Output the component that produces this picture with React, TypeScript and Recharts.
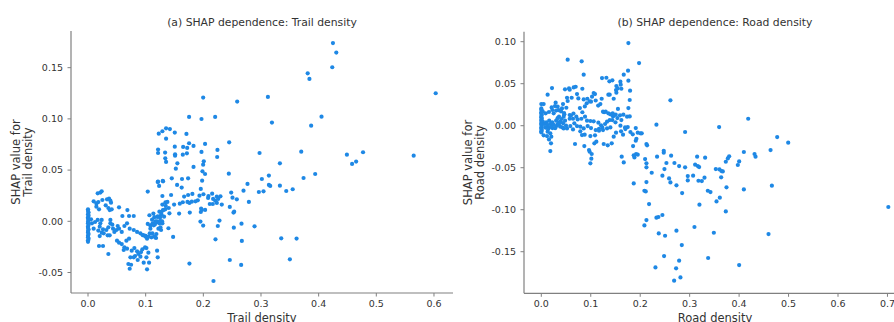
import { ScatterChart, Scatter, XAxis, YAxis } from "recharts";

// SHAP dependence points: [feature value, SHAP value]
const trailPoints: [number, number][] = [
  // x = 0 column
  [0, 0.0117], [0, 0.01], [0.001, 0.0085], [0, 0.007], [0.001, 0.0055], [0, 0.004], [0, 0.0025], [0.001, 0.001],
  [0, -0.0005], [0, -0.002], [0.001, -0.0035], [0, -0.005], [0, -0.0065], [0.001, -0.008], [0, -0.0095], [0, -0.011],
  [0.001, -0.0125], [0, -0.014], [0, -0.0155], [0.001, -0.017], [0, -0.0185], [0, -0.02],
  // low cluster
  [0.0168, 0.0273], [0.0214, 0.028], [0.0237, 0.0293],
  [0.0098, 0.0195], [0.0145, 0.0175], [0.0179, 0.0188], [0.0249, 0.0208], [0.033, 0.0215], [0.0365, 0.0221], [0.0388, 0.0201], [0.0399, 0.0182],
  [0.0145, 0.0143], [0.0191, 0.0117], [0.0307, 0.0156], [0.0353, 0.013], [0.0376, 0.011], [0.0411, 0.0117], [0.0538, 0.0136],
  [0.0683, 0.011], [0.0596, 0.0052], [0.0712, 0.0052], [0.0793, 0.0052],
  [0.0052, 0.0019], [0.0068, -0.002], [0.0122, -0.0007], [0.0168, 0.0013], [0.0214, -0.002], [0.0237, 0.0013], [0.0203, -0.0052], [0.0098, -0.0072], [0.0179, -0.0091],
  [0.026, -0.0078], [0.0318, -0.0085], [0.0353, -0.0059], [0.0388, -0.002], [0.0388, 0.0013], [0.0422, -0.0033], [0.0434, -0.0072], [0.0457, -0.0104], [0.0492, -0.0085], [0.0515, -0.0046], [0.0538, -0.0072],
  [0.0341, -0.0137], [0.0376, -0.0137], [0.0272, -0.0117], [0.0237, -0.0111], [0.0203, -0.0144],
  [0.0585, -0.0104], [0.0631, -0.0046], [0.0677, -0.002], [0.0723, -0.0072], [0.0793, -0.0085], [0.0851, -0.0104], [0.0909, -0.0117], [0.0966, -0.0137], [0.1001, -0.015], [0.1024, -0.017], [0.1071, -0.0117],
  [0.0503, -0.0189], [0.0538, -0.0209], [0.0585, -0.0222], [0.0631, -0.0254], [0.0619, -0.028], [0.0677, -0.0267], [0.0666, -0.0189], [0.0712, -0.017],
  [0.0191, -0.0241], [0.026, -0.0241], [0.0353, -0.0319],
  [0.0758, -0.0287], [0.0804, -0.0261], [0.0851, -0.0293], [0.0874, -0.0319], [0.092, -0.03], [0.0943, -0.0274], [0.099, -0.0254], [0.1013, -0.0261], [0.1047, -0.0306],
  [0.0735, -0.0352], [0.0793, -0.0352], [0.0816, -0.0339], [0.0862, -0.0378], [0.0909, -0.0345], [0.0966, -0.0404], [0.1013, -0.0352], [0.1024, -0.0469], [0.1059, -0.0404],
  [0.07, -0.0417], [0.0723, -0.0463], [0.0747, -0.0424],
  [0.1198, -0.0287], [0.1209, -0.0352],
  [0.1036, -0.0026], [0.1082, -0.0072], [0.114, -0.0039], [0.1198, 0.0], [0.1244, 0.0045], [0.1302, 0.011], [0.1221, -0.0072], [0.1117, -0.0117], [0.1186, -0.0124], [0.1163, -0.0156], [0.1256, -0.0059], [0.129, -0.002],
  [0.095, -0.0135], [0.1, -0.0143], [0.105, -0.015], [0.11, -0.0156], [0.115, -0.0146], [0.118, -0.0163],
  [0.108, -0.004], [0.112, -0.002], [0.116, -0.003], [0.12, -0.001], [0.124, -0.002], [0.126, 0.0],
  [0.1343, 0.0185], [0.1267, 0.0091], [0.1319, 0.0045], [0.115, 0.004], [0.12, 0.0042], [0.125, 0.0038],
  [0.1209, 0.0384], [0.1233, 0.0345], [0.1302, 0.039], [0.1036, 0.029], [0.129, 0.0247],
  // middle band
  [0.1441, 0.0257], [0.1736, 0.0257], [0.181, 0.0267], [0.1667, 0.0241], [0.1933, 0.025], [0.2002, 0.0264], [0.2089, 0.0247], [0.2153, 0.027],
  [0.2234, 0.0241], [0.2297, 0.0244], [0.2483, 0.028], [0.2506, 0.0231], [0.2581, 0.0215], [0.279, 0.0189], [0.2083, 0.0228], [0.217, 0.0218],
  [0.2205, 0.0202], [0.2257, 0.0218], [0.2164, 0.0169], [0.2112, 0.0169], [0.2234, 0.0179], [0.232, 0.0163], [0.2459, 0.014],
  [0.1725, 0.0189], [0.1759, 0.0179], [0.18, 0.0192], [0.1863, 0.0195], [0.1904, 0.0205], [0.1592, 0.0172], [0.1644, 0.0186],
  [0.1377, 0.0189], [0.129, 0.0163], [0.1348, 0.015], [0.1493, 0.0163], [0.14, 0.013], [0.134, 0.0117], [0.1302, 0.0107], [0.1238, 0.0094],
  [0.158, 0.0075], [0.1765, 0.0085], [0.1956, 0.0091], [0.1973, 0.0111], [0.1962, 0.0124], [0.2031, 0.0111], [0.2523, 0.0085], [0.2535, 0.0094],
  [0.1412, 0.0078], [0.1273, 0.0068], [0.1134, 0.0075], [0.121, 0.0049], [0.1065, 0.0059], [0.1111, 0.0016], [0.1169, 0.0], [0.1285, 0.0], [0.125, 0.0003],
  [0.228, 0.0007], [0.195, -0.0003], [0.1997, -0.0042], [0.2251, -0.0046], [0.2662, -0.0023], [0.2888, -0.0049], [0.2529, -0.0062],
  [0.1395, -0.0068], [0.1267, -0.0085], [0.1476, -0.0153], [0.2211, -0.0176], [0.2668, -0.0192], [0.3351, -0.0166], [0.3617, -0.0169],
  [0.2459, -0.0378], [0.3501, -0.0371], [0.1759, -0.0413], [0.2656, -0.0426], [0.2176, -0.0583],
  // upper spread
  [0.4248, 0.174], [0.4306, 0.1647], [0.4236, 0.1504], [0.381, 0.1445], [0.384, 0.139], [0.603, 0.125],
  [0.1997, 0.1208], [0.312, 0.1214], [0.2587, 0.1169], [0.1753, 0.1019], [0.1968, 0.0999], [0.2205, 0.1019], [0.405, 0.1022], [0.319, 0.0964], [0.387, 0.0934],
  [0.1227, 0.0856], [0.129, 0.0879], [0.1354, 0.0908], [0.142, 0.09], [0.1505, 0.0866], [0.1707, 0.0853], [0.1354, 0.0807],
  [0.1753, 0.0762], [0.183, 0.0736], [0.203, 0.0755], [0.2448, 0.0771], [0.1505, 0.0729], [0.165, 0.0726], [0.172, 0.0716],
  [0.1215, 0.07], [0.2245, 0.0697], [0.1215, 0.0667], [0.1337, 0.0671], [0.1968, 0.0677], [0.1715, 0.0664], [0.1644, 0.0651], [0.151, 0.0641],
  [0.151, 0.0654], [0.134, 0.0615], [0.224, 0.0628], [0.2975, 0.0667], [0.3698, 0.068], [0.449, 0.0651], [0.477, 0.0674], [0.5648, 0.0641],
  [0.458, 0.056], [0.465, 0.0583], [0.1354, 0.058], [0.155, 0.0566], [0.2008, 0.0586], [0.1997, 0.0553], [0.3328, 0.0566],
  [0.1523, 0.0514], [0.183, 0.0531], [0.1985, 0.0488], [0.203, 0.0462], [0.2442, 0.0465], [0.394, 0.0462], [0.3137, 0.0446], [0.3738, 0.0423], [0.3015, 0.0413],
  [0.1453, 0.042], [0.163, 0.0413], [0.1736, 0.042], [0.1296, 0.0394], [0.1215, 0.0387], [0.1979, 0.0397], [0.2766, 0.0365],
  [0.3137, 0.0355], [0.316, 0.0345], [0.3328, 0.0348], [0.1545, 0.0355], [0.1625, 0.0329], [0.1956, 0.0316],
  [0.2697, 0.0299], [0.2963, 0.0286], [0.3044, 0.0293], [0.3438, 0.0296], [0.355, 0.0313],
];

const roadPoints: [number, number][] = [
  // x = 0 column
  [0, 0.0258], [0, 0.0206], [0, 0.019], [0.001, 0.0175], [0, 0.016], [0, 0.0145], [0.001, 0.013], [0, 0.0115], [0, 0.01],
  [0.001, 0.0085], [0, 0.007], [0, 0.0055], [0.001, 0.004], [0, 0.0025], [0, 0.001], [0.001, -0.0005], [0, -0.002],
  [0, -0.0035], [0.001, -0.005], [0, -0.0065], [0, -0.008],
  // dense low cluster
  [0.0047, 0.0258], [0.0027, 0.0171], [0.0088, 0.0147], [0.0155, 0.0163], [0.0209, 0.0218], [0.0223, 0.0187], [0.025, 0.0147],
  [0.0358, 0.0107], [0.0466, 0.0135], [0.0452, 0.0107], [0.0574, 0.0127], [0.0574, 0.0083], [0.0641, 0.0083], [0.0708, 0.0107],
  [0.0735, 0.0075], [0.081, 0.0083], [0.0884, 0.0107], [0.0924, 0.006], [0.0992, 0.0056], [0.1059, 0.0052], [0.1154, 0.0036],
  [0.1208, 0.0004], [0.1235, -0.0024], [0.1289, 0.002], [0.1329, 0.0048], [0.1383, 0.0067], [0.1437, 0.0067], [0.1451, 0.0111],
  [0.1505, 0.0131], [0.1538, 0.0091], [0.1592, 0.0123], [0.1619, 0.0067], [0.166, 0.0131], [0.1734, 0.0107], [0.1788, 0.0111],
  [0.1248, 0.0167], [0.1302, 0.0167], [0.1356, 0.0147], [0.1397, 0.0135], [0.1444, 0.0147], [0.1478, 0.0127],
  [0.0668, 0.0028], [0.0722, -0.0004], [0.0789, -0.0012], [0.0857, -0.0032], [0.0938, -0.0004], [0.1005, -0.0028],
  [0.11, -0.0052], [0.1167, -0.006], [0.1248, -0.0052], [0.1329, -0.0032],
  [0.0101, -0.0024], [0.0155, -0.002], [0.0223, -0.0028], [0.0331, 0.002], [0.0385, 0.0052], [0.0425, -0.002],
  [0.0128, -0.0071], [0.0182, -0.0091], [0.0202, -0.0131], [0.0115, -0.0123], [0.0047, -0.0115],
  [0.0155, -0.0163], [0.0196, -0.021], [0.0182, -0.0302],
  [0.0304, -0.0004], [0.0358, 0.002], [0.0452, -0.0032], [0.052, -0.0032], [0.0587, -0.0004], [0.0641, -0.0044],
  [0.0789, -0.0067], [0.0823, -0.0111], [0.0877, -0.0107], [0.0992, -0.0123], [0.1086, -0.0115], [0.1167, -0.0036], [0.1397, -0.002],
  [0.0682, -0.0218], [0.087, -0.0242], [0.0965, -0.029], [0.0978, -0.031], [0.1019, -0.0337], [0.1012, -0.0393], [0.0992, -0.0448],
  [0.1073, -0.021], [0.1113, -0.019], [0.1262, -0.0218], [0.1343, -0.0234], [0.1424, -0.021],
  [0.1464, -0.0131], [0.1511, -0.0083], [0.1613, -0.0067], [0.1653, -0.0107], [0.1694, -0.002], [0.1748, -0.0016],
  [0.1802, -0.0075], [0.1849, -0.0103], [0.191, -0.0028], [0.195, -0.0083], [0.2031, -0.0091],
  [0.1626, -0.0369], [0.1667, -0.0437], [0.1856, -0.0242], [0.191, -0.0179], [0.1869, -0.0353], [0.1883, -0.0377],
  [0.1916, -0.0337], [0.195, -0.0345], [0.1923, -0.0155], [0.2004, -0.0091],
  [0.003, 0.005], [0.006, 0.002], [0.008, -0.002], [0.01, 0.004], [0.012, 0.001], [0.014, -0.004], [0.016, 0.006],
  [0.018, 0.002], [0.02, -0.001], [0.022, 0.004], [0.025, 0.001], [0.028, -0.003], [0.03, 0.006], [0.033, 0.009],
  [0.036, 0.004], [0.038, -0.001], [0.041, 0.008], [0.044, 0.003], [0.048, 0.006], [0.05, 0.0],
  [0.03, 0.018], [0.035, 0.0185], [0.04, 0.017], [0.046, 0.015], [0.06, 0.012], [0.065, 0.0145], [0.078, 0.021],
  [0.083, 0.016], [0.088, 0.023], [0.098, 0.029], [0.11, 0.03], [0.115, 0.024], [0.127, 0.016], [0.15, 0.004],
  [0.155, 0.02], [0.16, 0.0], [0.17, -0.004],
  // upper part of the cluster
  [0.0216, 0.0448], [0.0128, 0.0369], [0.0479, 0.0433], [0.0574, 0.0429], [0.056, 0.0444], [0.0655, 0.0456], [0.0695, 0.0464],
  [0.083, 0.044], [0.0722, 0.0377], [0.1059, 0.0389], [0.1086, 0.0377], [0.1026, 0.0345], [0.1005, 0.0286], [0.0931, 0.0321],
  [0.0918, 0.0266], [0.0749, 0.0325], [0.0857, 0.0313], [0.052, 0.0333], [0.0533, 0.0294], [0.0614, 0.0333],
  [0.029, 0.0274], [0.0439, 0.0258], [0.0277, 0.0234], [0.0331, 0.0226], [0.0418, 0.0206], [0.0506, 0.0214],
  [0.1221, 0.0321], [0.1194, 0.0258], [0.1356, 0.0369], [0.1383, 0.0369], [0.1464, 0.0321], [0.1518, 0.0393], [0.1511, 0.0425],
  [0.1228, 0.0567], [0.1316, 0.0571], [0.1377, 0.0528], [0.1437, 0.054], [0.1599, 0.0524], [0.1606, 0.0488],
  [0.1545, 0.0444], [0.1518, 0.0472], [0.1619, 0.044], [0.1761, 0.0536], [0.1795, 0.0417], [0.1788, 0.0306], [0.1761, 0.021],
  [0.1667, 0.0607], [0.1754, 0.0655], [0.0857, 0.0607], [0.0533, 0.0786], [0.0816, 0.0766], [0.1977, 0.0746], [0.1761, 0.0984],
  // spread to the right
  [0.1869, -0.0687], [0.2328, 0.0012], [0.2611, 0.0302], [0.2908, -0.0075], [0.3596, -0.0016], [0.4184, 0.0083],
  [0.477, -0.0135], [0.4993, -0.0202], [0.4636, -0.029], [0.4312, -0.0337], [0.4332, -0.0369], [0.4096, -0.0313],
  [0.4001, -0.0425], [0.3974, -0.0468], [0.3799, -0.0365], [0.3772, -0.0389], [0.3731, -0.0429],
  [0.3603, -0.052], [0.367, -0.0544], [0.3643, -0.054], [0.3529, -0.0516], [0.3637, -0.0615],
  [0.3151, -0.0369], [0.3313, -0.0381], [0.3111, -0.0464], [0.3165, -0.048], [0.3192, -0.0492],
  [0.2962, -0.0599], [0.307, -0.0595], [0.33, -0.0619], [0.3178, -0.0655], [0.3246, -0.0659],
  [0.2692, -0.0444], [0.2787, -0.048], [0.2908, -0.0496], [0.2962, -0.0651], [0.253, -0.0444], [0.249, -0.0516],
  [0.2449, -0.0595], [0.2341, -0.0369], [0.2476, -0.0298], [0.2476, -0.0321], [0.2625, -0.0357],
  [0.2584, -0.0627], [0.2611, -0.0675], [0.2733, -0.071], [0.2848, -0.0802],
  [0.2126, -0.0218], [0.2139, -0.0234], [0.2099, -0.0397], [0.2126, -0.0448], [0.2126, -0.0496], [0.2233, -0.056],
  [0.2126, -0.0671], [0.2085, -0.0774], [0.2112, -0.0782], [0.2179, -0.0933],
  [0.3745, -0.0734], [0.4096, -0.0758], [0.4663, -0.0714], [0.3367, -0.0774], [0.3421, -0.079],
  [0.3543, -0.0901], [0.361, -0.0857], [0.3198, -0.094], [0.3731, -0.102],
  [0.2126, -0.1123], [0.2085, -0.1187], [0.2328, -0.1095], [0.2368, -0.1087], [0.2449, -0.1063],
  [0.2375, -0.1282], [0.2503, -0.131], [0.2733, -0.125], [0.3097, -0.1206], [0.3489, -0.1274], [0.4595, -0.129],
  [0.2841, -0.1421], [0.2483, -0.1552], [0.3374, -0.1575], [0.2308, -0.1687], [0.2787, -0.1607], [0.2726, -0.1698],
  [0.2814, -0.1806], [0.2686, -0.1845], [0.4001, -0.1659], [0.7018, -0.0968],
];

const trailXTicks = [0, 0.1, 0.2, 0.3, 0.4, 0.5, 0.6];
const trailYTicks = [-0.05, 0, 0.05, 0.1, 0.15];
const roadXTicks = [0, 0.1, 0.2, 0.3, 0.4, 0.5, 0.6, 0.7];
const roadYTicks = [-0.15, -0.1, -0.05, 0, 0.05, 0.1];

const FONT = "DejaVu Sans";
const DOT = "#1E88E5";
const AXIS = "#808080";
const TEXT = "#333333";

const dot = (props: any) => <circle cx={props.cx} cy={props.cy} r={2.1} fill={DOT} />;

type PanelProps = {
  left: number;
  title: string;
  feature: string;
  points: [number, number][];
  xDomain: [number, number];
  yDomain: [number, number];
  xTicks: number[];
  yTicks: number[];
  yAxisWidth: number;
  top: number;
  bottom: number;
  ylabelX: [number, number];
};

function Panel(p: PanelProps) {
  const data = p.points.map(([x, y]) => ({ x, y }));
  const plotW = 382;
  const width = p.yAxisWidth + plotW + 6;
  const centerX = p.yAxisWidth + plotW / 2;
  const centerY = (p.top + (322 - p.bottom)) / 2;

  const yLabel = () => (
    <g fontFamily={FONT} fill={TEXT}>
      <text x={centerX} y={26} textAnchor="middle" fontSize={10.8}>
        {p.title}
      </text>
      <text
        x={p.ylabelX[0]}
        y={centerY}
        fontSize={11.5}
        textAnchor="middle"
        transform={`rotate(-90 ${p.ylabelX[0]} ${centerY})`}
      >
        SHAP value for
      </text>
      <text
        x={p.ylabelX[1]}
        y={centerY}
        fontSize={11.5}
        textAnchor="middle"
        transform={`rotate(-90 ${p.ylabelX[1]} ${centerY})`}
      >
        {p.feature}
      </text>
    </g>
  );

  const xLabel = () => (
    <text x={centerX} y={321.5} fontFamily={FONT} fontSize={11.5} fill={TEXT} textAnchor="middle">
      {p.feature}
    </text>
  );

  return (
    <div style={{ position: "absolute", left: p.left, top: 0 }}>
      <ScatterChart width={width} height={322} margin={{ top: p.top, right: 6, bottom: 0, left: 0 }}>
        <XAxis
          type="number"
          dataKey="x"
          domain={p.xDomain}
          ticks={p.xTicks}
          allowDataOverflow
          height={p.bottom}
          tickFormatter={(v: number) => v.toFixed(1)}
          tick={{ fill: TEXT, fontSize: 9.5, fontFamily: FONT }}
          tickSize={3.5}
          tickMargin={3.5}
          axisLine={{ stroke: AXIS, strokeWidth: 1.2 }}
          tickLine={{ stroke: AXIS }}
          label={xLabel}
        />
        <YAxis
          type="number"
          dataKey="y"
          domain={p.yDomain}
          ticks={p.yTicks}
          allowDataOverflow
          width={p.yAxisWidth}
          tickFormatter={(v: number) => v.toFixed(2)}
          tick={{ fill: TEXT, fontSize: 9.5, fontFamily: FONT }}
          tickSize={3.5}
          tickMargin={4.5}
          axisLine={{ stroke: AXIS, strokeWidth: 1.2 }}
          tickLine={{ stroke: AXIS }}
          label={yLabel}
        />
        <Scatter data={data} shape={dot} isAnimationActive={false} />
      </ScatterChart>
    </div>
  );
}

export default function App() {
  return (
    <div
      style={{
        position: "absolute",
        left: 0,
        top: 0,
        width: 894,
        height: 322,
        overflow: "hidden",
        background: "#fff",
      }}
    >
      <Panel
        left={0}
        title="(a) SHAP dependence: Trail density"
        feature="Trail density"
        points={trailPoints}
        xDomain={[-0.0295, 0.633]}
        yDomain={[-0.07, 0.1858]}
        xTicks={trailXTicks}
        yTicks={trailYTicks}
        yAxisWidth={71}
        top={31}
        bottom={29}
        ylabelX={[20.4, 31.7]}
      />
      <Panel
        left={450}
        title="(b) SHAP dependence: Road density"
        feature="Road density"
        points={roadPoints}
        xDomain={[-0.035, 0.7375]}
        yDomain={[-0.1995, 0.1119]}
        xTicks={roadXTicks}
        yTicks={roadYTicks}
        yAxisWidth={74}
        top={31.7}
        bottom={28.7}
        ylabelX={[21.7, 34.4]}
      />
    </div>
  );
}
